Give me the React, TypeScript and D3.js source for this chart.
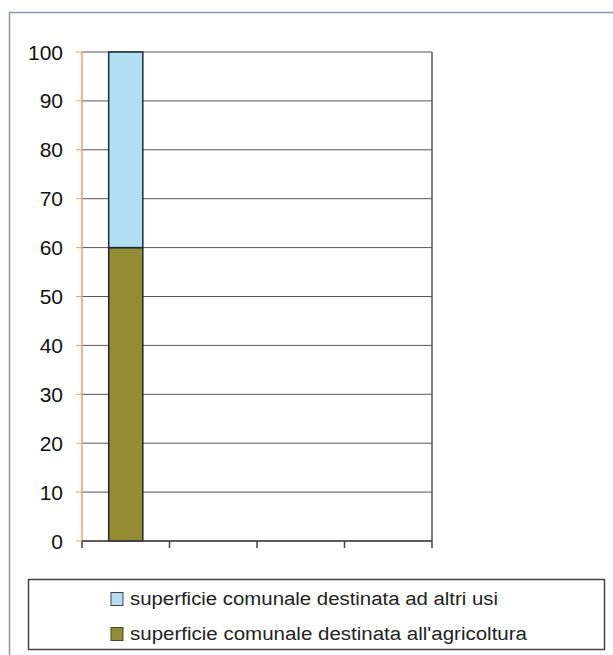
import React from "react";
import * as d3 from "d3";

const categories = ["c1", "c2", "c3", "c4"];
const agricoltura = [60, null, null, null];
const altriUsi = [40, null, null, null];
const yTicks = [0, 10, 20, 30, 40, 50, 60, 70, 80, 90, 100];
const seriesNames = [
  "superficie comunale destinata ad altri usi",
  "superficie comunale destinata all'agricoltura",
];
const seriesColors = ["#b2e0f3", "#948c32"];

export default function App() {
  const W = 613, H = 655;
  const left = 82, right = 432, top = 52, bottom = 541;
  const x = d3.scaleBand<string>().domain(categories).range([left, right]).padding(0);
  const y = d3.scaleLinear().domain([0, 100]).range([bottom, top]);
  const bw = x.step() * 0.39;
  const stack = categories.map((c, i) => {
    const a = agricoltura[i];
    const b = altriUsi[i];
    return { c, a, b };
  });
  const font = "'Liberation Sans', Arial, sans-serif";
  const tickXs = [...categories.map((c) => x(c)!), right];
  return (
    <div style={{ position: "absolute", left: 0, top: 0 }}>
      <svg width={W} height={H} style={{ display: "block", background: "#fff" }}>
        {/* outer frame */}
        <line x1={9} y1={12.5} x2={W} y2={12.5} stroke="#8d97ad" strokeWidth={1.5} />
        <line x1={9.5} y1={12} x2={9.5} y2={H} stroke="#8d97ad" strokeWidth={1.5} />
        {/* gridlines */}
        {yTicks.map((t) => (
          <line key={t} x1={left} x2={right} y1={y(t)} y2={y(t)} stroke="#555" strokeWidth={1} />
        ))}
        {/* right border */}
        <line x1={right} x2={right} y1={top} y2={bottom} stroke="#555" strokeWidth={1.5} />
        {/* x ticks */}
        {tickXs.map((tx, i) => (
          <line key={i} x1={tx} x2={tx} y1={bottom} y2={bottom + 7} stroke="#444" strokeWidth={1.5} />
        ))}
        {/* bars */}
        {stack.map((d) =>
          d.a == null ? null : (
            <g key={d.c}>
              <rect
                x={x(d.c)! + (x.step() - bw) / 2}
                y={y(d.a)}
                width={bw}
                height={y(0) - y(d.a)}
                fill={seriesColors[1]}
                stroke="#1d2a2a"
                strokeWidth={1.5}
              />
              <rect
                x={x(d.c)! + (x.step() - bw) / 2}
                y={y(d.a + (d.b ?? 0))}
                width={bw}
                height={y(d.a) - y(d.a + (d.b ?? 0))}
                fill={seriesColors[0]}
                stroke="#1d2a3a"
                strokeWidth={1.5}
              />
            </g>
          )
        )}
        {/* y axis */}
        <line x1={left} x2={left} y1={top} y2={bottom} stroke="#f0a060" strokeWidth={1.5} />
        {yTicks.map((t) => (
          <line key={"t" + t} x1={left - 6} x2={left} y1={y(t)} y2={y(t)} stroke="#e8a070" strokeWidth={1} />
        ))}
        {yTicks.map((t) => (
          <text
            key={"l" + t}
            x={63}
            y={y(t)}
            dy="0.36em"
            textAnchor="end"
            fontFamily={font}
            fontSize={21}
            fill="#111"
          >
            {t}
          </text>
        ))}
        {/* x axis line */}
        <line x1={left} x2={right} y1={bottom} y2={bottom} stroke="#444" strokeWidth={1.5} />
        {/* legend */}
        <rect x={28.5} y={579.5} width={576} height={70} fill="#fff" stroke="#444" strokeWidth={1.5} />
        {seriesNames.map((n, i) => {
          const cy = i === 0 ? 599 : 634;
          return (
            <g key={n}>
              <rect x={111} y={cy - 6.5} width={12} height={13} fill={seriesColors[i]} stroke="#444" strokeWidth={1} />
              <text
                x={130}
                y={cy}
                dy="0.36em"
                fontFamily={font}
                fontSize={18}
                fill="#222"
                textLength={i === 0 ? 368 : 397}
                lengthAdjust="spacingAndGlyphs"
              >
                {n}
              </text>
            </g>
          );
        })}
      </svg>
    </div>
  );
}
